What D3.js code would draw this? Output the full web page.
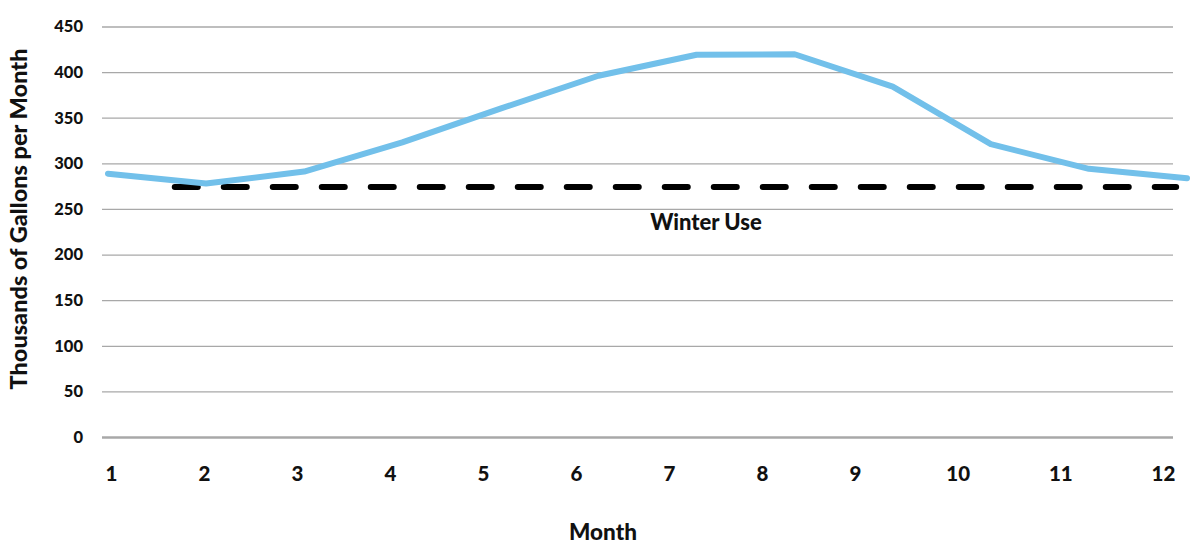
<!DOCTYPE html>
<html>
<head>
<meta charset="utf-8">
<script src="https://cdn.jsdelivr.net/npm/d3@7"></script>
<style>
  html, body { margin: 0; padding: 0; background: #fff; }
  svg { display: block; }
  text { font-family: Lato, "Open Sans", sans-serif; font-weight: 900; fill: #111; }
</style>
</head>
<body>
<svg id="chart" width="1195" height="546"></svg>
<script>
// Monthly water use, thousands of gallons
const months = [1, 2, 3, 4, 5, 6, 7, 8, 9, 10, 11, 12];
const usage = [288.7, 277.8, 291, 323, 360, 396, 419, 419.6, 384, 321, 294, 283.7];

// Winter baseline and the span it is drawn over (in months)
const winterUse = 274;
const winterSpan = [1.65, 11.92];

// Axis ticks
const yTicks = [0, 50, 100, 150, 200, 250, 300, 350, 400, 450];
const xTickLabels = ["1", "2", "3", "4", "5", "6", "7", "8", "9", "10", "11", "12"];

const svg = d3.select("#chart");

const y = d3.scaleLinear().domain([0, 450]).range([437, 26.5]);
const xLine = d3.scaleLinear().domain([1, 12]).range([108, 1187]);
const xLabel = d3.scaleLinear().domain([1, 9, 12]).range([111, 855, 1163]);

const gridLeft = 102, gridRight = 1173;

// Horizontal gridlines with tick labels
const yAxis = d3.axisLeft(y)
  .tickValues(yTicks)
  .tickSize(-(gridRight - gridLeft))
  .tickPadding(19)
  .tickFormat(d3.format("d"));

const gy = svg.append("g")
  .attr("transform", `translate(${gridLeft},0)`)
  .call(yAxis);
gy.select(".domain").remove();
gy.selectAll(".tick line")
  .attr("stroke", "#a8a8a8")
  .attr("stroke-width", d => d === 0 ? 2.6 : 1.3);
gy.selectAll(".tick text")
  .style("font-size", "16.5px")
  .attr("fill", "#111");

// Month labels along the bottom
const xAxis = d3.axisBottom(xLabel)
  .tickValues(months)
  .tickSize(0)
  .tickPadding(0)
  .tickFormat((d, i) => xTickLabels[i]);
const gx = svg.append("g")
  .attr("transform", "translate(0,466)")
  .call(xAxis);
gx.select(".domain").remove();
gx.selectAll(".tick text")
  .style("font-size", "20.5px")
  .attr("dy", "0.75em")
  .attr("fill", "#111");

// Winter use dashed baseline
svg.append("line")
  .attr("x1", xLine(winterSpan[0]) + 3)
  .attr("x2", xLine(winterSpan[1]) - 3)
  .attr("y1", y(winterUse))
  .attr("y2", y(winterUse))
  .attr("stroke", "#000")
  .attr("stroke-width", 6)
  .attr("stroke-linecap", "round")
  .attr("stroke-dasharray", "23 26");

// Monthly usage line
const line = d3.line()
  .x((d, i) => xLine(months[i]))
  .y(d => y(d));
svg.append("path")
  .datum(usage)
  .attr("d", line)
  .attr("fill", "none")
  .attr("stroke", "#72c0ea")
  .attr("stroke-width", 6)
  .attr("stroke-linejoin", "round")
  .attr("stroke-linecap", "round");

// Annotation
svg.append("text")
  .attr("x", 706)
  .attr("y", y(winterUse) + 43)
  .attr("text-anchor", "middle")
  .style("font-size", "22px")
  .text("Winter Use");

// Axis titles
svg.append("text")
  .attr("x", 603)
  .attr("y", 540)
  .attr("text-anchor", "middle")
  .style("font-size", "22.5px")
  .text("Month");

svg.append("text")
  .attr("transform", "translate(27,219) rotate(-90)")
  .attr("text-anchor", "middle")
  .style("font-size", "23.5px")
  .text("Thousands of Gallons per Month");
</script>
</body>
</html>
